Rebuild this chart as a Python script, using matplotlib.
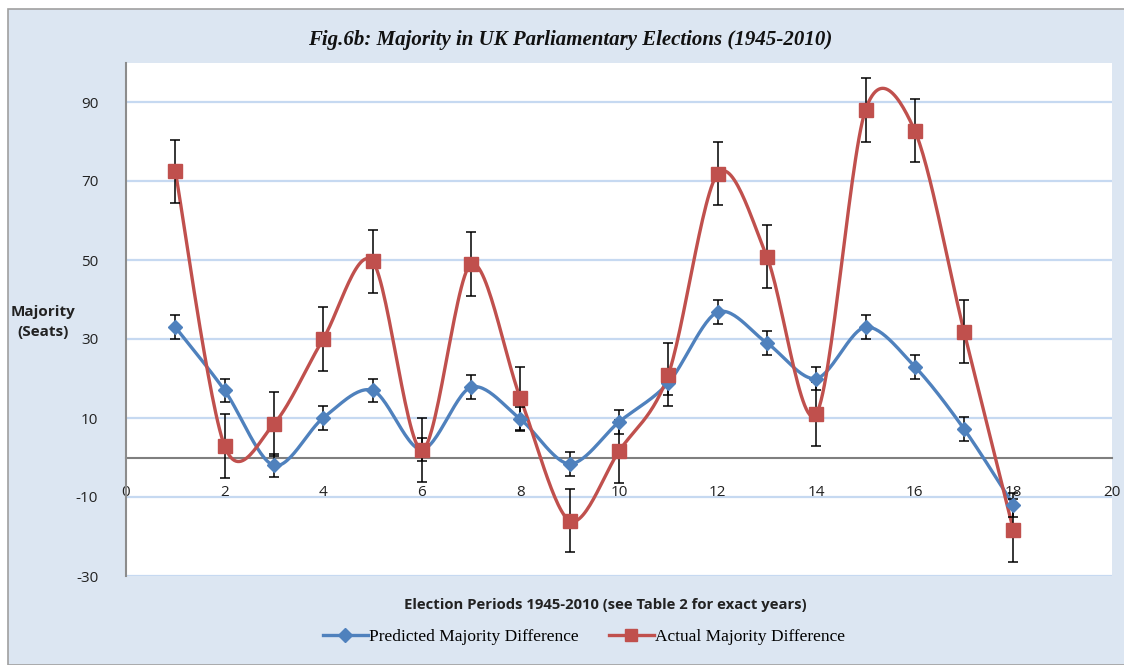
import numpy as np
import matplotlib
matplotlib.use("Agg")
import matplotlib.pyplot as plt
from matplotlib.patches import Rectangle
from matplotlib.lines import Line2D

periods = list(range(1, 19))
predicted = [33, 17, -2, 10, 17, 2, 17.8, 9.7, -1.6, 9, 18.9, 36.8, 29, 20, 33, 23, 7.2, -12]
actual = [72.5, 2.9, 8.5, 30, 49.7, 1.9, 49, 15, -16, 1.6, 21, 71.8, 50.8, 11, 88, 82.7, 31.8, -18.4]
pred_err = 3
act_err = 8
y_ticks = [-30, -10, 10, 30, 50, 70, 90]
x_ticks = list(range(0, 21, 2))

title = "Fig.6b: Majority in UK Parliamentary Elections (1945-2010)"
xlabel = "Election Periods 1945-2010 (see Table 2 for exact years)"
ylabel = "Majority\n(Seats)"
names = ["Predicted Majority Difference", "Actual Majority Difference"]

BLUE = "#4f81bd"
RED = "#c0504d"
BG = "#dce6f2"
GRID = "#c6d9f1"


def smooth(x, y, n=30):
    x = np.asarray(x, float)
    y = np.asarray(y, float)
    P = np.column_stack([x, y])
    out = []
    for i in range(len(P) - 1):
        p0 = P[i - 1] if i > 0 else P[i]
        p1 = P[i]
        p2 = P[i + 1]
        p3 = P[i + 2] if i + 2 < len(P) else P[i + 1]
        c1 = p1 + (p2 - p0) / 6.5
        c2 = p2 - (p3 - p1) / 6.5
        t = np.linspace(0, 1, n)[:, None]
        seg = ((1 - t) ** 3) * p1 + 3 * ((1 - t) ** 2) * t * c1 + 3 * (1 - t) * t ** 2 * c2 + t ** 3 * p2
        out.append(seg if i == 0 else seg[1:])
    S = np.vstack(out)
    return S[:, 0], S[:, 1]


fig = plt.figure(figsize=(11.24, 6.65), dpi=100)
fig.patch.set_facecolor("white")
fig.add_artist(Rectangle((8 / 1124, 0), 1 - 8 / 1124 + 0.01, 1 - 9 / 665,
                         transform=fig.transFigure, facecolor=BG,
                         edgecolor="#a0a0a0", linewidth=1.2, zorder=0))

ax = fig.add_axes([126 / 1124, 1 - 576 / 665, (1112 - 126) / 1124, (576 - 62.5) / 665])
ax.set_facecolor("white")
ax.set_xlim(0, 20)
ax.set_ylim(-30, 100)

for yv in y_ticks:
    ax.axhline(yv, color=GRID, lw=1.6, zorder=1)

ax.spines["top"].set_visible(False)
ax.spines["right"].set_visible(False)
ax.spines["left"].set_color("#8c8c8c")
ax.spines["left"].set_linewidth(1.5)
ax.spines["bottom"].set_position(("data", 0))
ax.spines["bottom"].set_color("#7f7f7f")
ax.spines["bottom"].set_linewidth(1.5)
ax.spines["bottom"].set_zorder(2)

ax.set_yticks(y_ticks)
ax.set_yticklabels([str(v) for v in y_ticks], fontsize=11, family="Open Sans", color="#222222")
ax.set_xticks(x_ticks)
ax.set_xticklabels([str(v) for v in x_ticks], fontsize=11, family="Open Sans", color="#222222")
ax.tick_params(axis="y", length=0, pad=20)
ax.tick_params(axis="x", length=0, pad=20)

for vals, err, col, mk, ms in [(predicted, pred_err, BLUE, "D", 7.5),
                               (actual, act_err, RED, "s", 10)]:
    sx, sy = smooth(periods, vals)
    ax.plot(sx, sy, color=col, lw=2.4, zorder=3, solid_capstyle="round")
    ax.errorbar(periods, vals, yerr=err, fmt="none", ecolor="black", elinewidth=1.1,
                capsize=3.5, capthick=1.1, zorder=4)
    ax.plot(periods, vals, linestyle="none", marker=mk, color=col, markersize=ms, zorder=5)

fig.text(570 / 1124, 1 - 40 / 665, title, ha="center", va="center", fontsize=15,
         family="Liberation Serif", style="italic", weight="bold", color="#111111")
fig.text(43 / 1124, 1 - 322 / 665, ylabel, ha="center", va="center", fontsize=11,
         family="Open Sans", weight="bold", color="#222222", linespacing=1.5)
fig.text(605 / 1124, 1 - 605 / 665, xlabel, ha="center", va="center", fontsize=10.7,
         family="Open Sans", weight="bold", color="#222222")

handles = [Line2D([0], [0], color=BLUE, lw=2.4, marker="D", markersize=7),
           Line2D([0], [0], color=RED, lw=2.4, marker="s", markersize=9)]
leg = fig.legend(handles, names, loc="center", bbox_to_anchor=(584 / 1124, 1 - 637 / 665),
                 ncol=2, frameon=False, handlelength=2.6, handletextpad=0.1, columnspacing=1.7,
                 prop={"family": "Liberation Serif", "size": 12.5})

fig.savefig("out.png", dpi=100, facecolor=fig.get_facecolor())
